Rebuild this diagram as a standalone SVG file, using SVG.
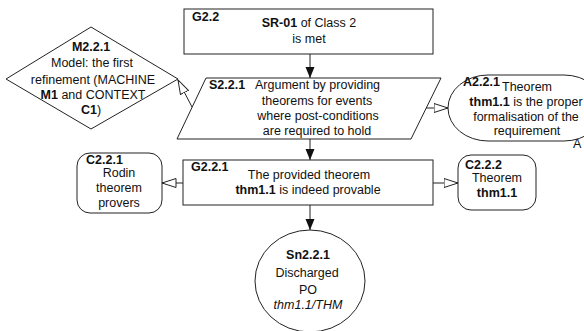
<svg xmlns="http://www.w3.org/2000/svg" width="584" height="331" viewBox="0 0 584 331">
<style>
text{font-family:"Liberation Sans",Arial,sans-serif;font-size:12.5px;fill:#111}
.b{font-weight:bold}
.c{text-anchor:middle}
.n{fill:#fff;stroke:#222;stroke-width:1}
.l{stroke:#222;stroke-width:1;fill:none}
</style>
<defs>
<marker id="fa" markerUnits="userSpaceOnUse" markerWidth="12" markerHeight="10" refX="11" refY="5" orient="auto"><path d="M0,0.5 L11,5 L0,9.5 z" fill="#111"/></marker>
<marker id="ha" markerUnits="userSpaceOnUse" markerWidth="16" markerHeight="12" refX="14.5" refY="6" orient="auto"><path d="M0.5,1.5 L14.5,6 L0.5,10.5 z" fill="#fff" stroke="#222" stroke-width="1"/></marker>
</defs>
<g id="connectors">
<line class="l" x1="310" y1="54" x2="310" y2="78" marker-end="url(#fa)"/>
<line class="l" x1="310" y1="139" x2="310" y2="160" marker-end="url(#fa)"/>
<line class="l" x1="310" y1="205" x2="310" y2="230" marker-end="url(#fa)"/>
<line class="l" x1="192" y1="107" x2="178" y2="80" marker-end="url(#ha)"/>
<line class="l" x1="426" y1="108" x2="448" y2="108" marker-end="url(#ha)"/>
<line class="l" x1="183" y1="183" x2="162" y2="183" marker-end="url(#ha)"/>
<line class="l" x1="433" y1="183" x2="458" y2="183" marker-end="url(#ha)"/>
</g>
<g id="G2.2">
<rect class="n" x="184" y="9" width="249" height="45"/>
<text class="b" x="192" y="21">G2.2</text>
<text class="c" x="309" y="27"><tspan class="b">SR-01</tspan> of Class 2</text>
<text class="c" x="309" y="43">is met</text>
</g>
<g id="M2.2.1">
<polygon class="n" points="6,79 91,27 178,79 91,129"/>
<text class="b c" x="91" y="51">M2.2.1</text>
<text class="c" x="92" y="67">Model: the first</text>
<text class="c" x="93" y="84">refinement (MACHINE</text>
<text class="c" x="93" y="99"><tspan class="b">M1</tspan> and CONTEXT</text>
<text class="c" x="91" y="114"><tspan class="b">C1</tspan>)</text>
</g>
<g id="S2.2.1">
<polygon class="n" points="206,78 441,78 411,139 177,139"/>
<text class="b" x="209" y="89">S2.2.1</text>
<text x="255" y="89">Argument by providing</text>
<text class="c" x="317" y="105">theorems for events</text>
<text class="c" x="318" y="120">where post-conditions</text>
<text class="c" x="317" y="135">are required to hold</text>
</g>
<g id="A2.2.1">
<rect class="n" x="448" y="75" width="156" height="66" rx="40" ry="33"/>
<text class="b" x="463" y="86">A2.2.1</text>
<text x="502" y="91">Theorem</text>
<text class="c" x="526" y="106"><tspan class="b">thm1.1</tspan> is the proper</text>
<text class="c" x="526" y="121">formalisation of the</text>
<text class="c" x="527" y="135">requirement</text>
<text x="573" y="148">A</text>
</g>
<g id="G2.2.1">
<rect class="n" x="183" y="160" width="250" height="45"/>
<text class="b" x="191" y="171">G2.2.1</text>
<text class="c" x="309" y="179">The provided theorem</text>
<text class="c" x="308" y="194"><tspan class="b">thm1.1</tspan> is indeed provable</text>
</g>
<g id="C2.2.1">
<rect class="n" x="77" y="153" width="85" height="60" rx="13"/>
<text class="b" x="86" y="164">C2.2.1</text>
<text class="c" x="119" y="177">Rodin</text>
<text class="c" x="119" y="192">theorem</text>
<text class="c" x="119" y="207">provers</text>
</g>
<g id="C2.2.2">
<rect class="n" x="458" y="155" width="78" height="55" rx="13"/>
<text class="b" x="465" y="169">C2.2.2</text>
<text class="c" x="497" y="182">Theorem</text>
<text class="b c" x="497" y="197">thm1.1</text>
</g>
<g id="Sn2.2.1">
<ellipse class="n" cx="310" cy="281" rx="55" ry="51"/>
<text class="b c" x="308" y="259">Sn2.2.1</text>
<text class="c" x="307" y="277">Discharged</text>
<text class="c" x="308" y="294">PO</text>
<text class="c" x="308" y="309" font-style="italic">thm1.1/THM</text>
</g>
</svg>
